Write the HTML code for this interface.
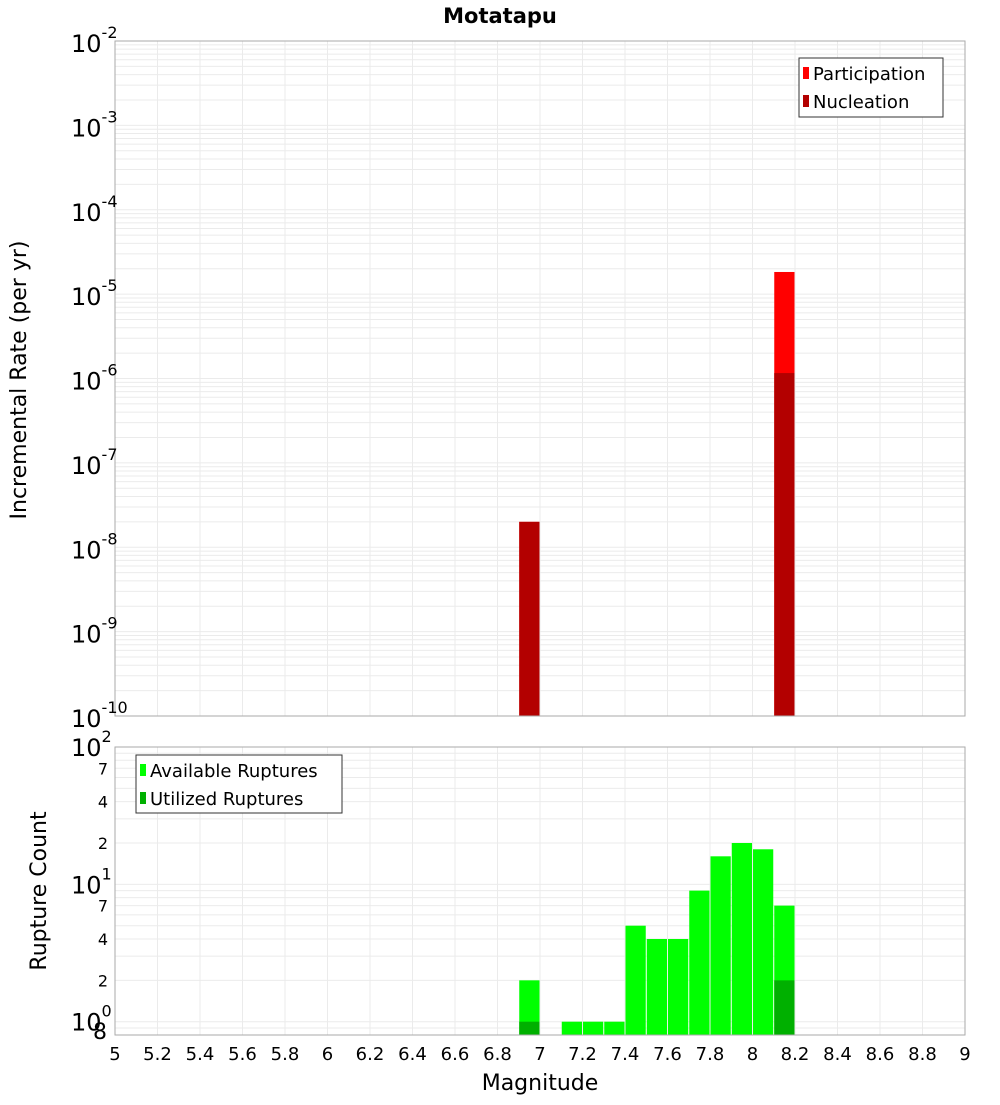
<!DOCTYPE html>
<html><head><meta charset="utf-8">
<style>
body{margin:0;background:#fff;font-family:"Liberation Sans","DejaVu Sans",sans-serif;}
svg text{font-family:"DejaVu Sans","Liberation Sans",sans-serif;}
</style></head>
<body>
<svg id="chart" width="1000" height="1100" xmlns="http://www.w3.org/2000/svg">
<rect width="1000" height="1100" fill="#fff"/>
<text x="500" y="23" text-anchor="middle" font-size="21" font-weight="bold">Motatapu</text>
</svg>
<script>
const rateMags = [6.95, 8.15];
const participationRates = [2.0e-8, 1.83e-5];
const nucleationRates = [2.0e-8, 1.16e-6];
const countMags = [6.95, 7.15, 7.25, 7.35, 7.45, 7.55, 7.65, 7.75, 7.85, 7.95, 8.05, 8.15];
const availableCounts = [2, 1, 1, 1, 5, 4, 4, 9, 16, 20, 18, 7];
const utilizedMags = [6.95, 8.15];
const utilizedCounts = [1, 2];
const xTickLabels = ["5","5.2","5.4","5.6","5.8","6","6.2","6.4","6.6","6.8","7","7.2","7.4","7.6","7.8","8","8.2","8.4","8.6","8.8","9"];
const topExps = [-2,-3,-4,-5,-6,-7,-8,-9,-10];
const bottomTickVals = [100,70,40,20,10,7,4,2,1,0.8];
const bottomTickLabels = ["10^2","7","4","2","10^1","7","4","2","10^0","8"];

const svg = document.getElementById('chart');
const NS = 'http://www.w3.org/2000/svg';
function mk(tag, attrs, parent){const e=document.createElementNS(NS,tag);for(const k in attrs)e.setAttribute(k,attrs[k]);(parent||svg).appendChild(e);return e;}

const X0=115,X1=965;
const xs = m => X0 + (m-5)/4*(X1-X0);
const T0=41,T1=716;
const yTop = v => T0 + (-2 - Math.log10(v))/8*(T1-T0);
const B0=747,B1=1035;
const bLo=Math.log10(0.8), bHi=2;
const yBot = v => B0 + (bHi - Math.log10(v))/(bHi-bLo)*(B1-B0);

function grid(y0,y1,yfn,minV,maxV){
  for(let d=Math.floor(Math.log10(minV));d<=Math.ceil(Math.log10(maxV));d++){
    for(let k=1;k<10;k++){const v=k*Math.pow(10,d);if(v<minV||v>maxV)continue;const y=yfn(v);
      const l=mk('line',{x1:X0,x2:X1,y1:y,y2:y,stroke:'#ebebeb','stroke-width':1});
      
      }
  }
  xTickLabels.forEach(t=>{const x=xs(parseFloat(t));
    const l=mk('line',{x1:x,x2:x,y1:y0,y2:y1,stroke:'#ebebeb','stroke-width':1});
    
    });
}
grid(T0,T1,yTop,1e-10,1e-2);
grid(B0,B1,yBot,0.8,100);

// top bars
const bw = xs(5.1)-xs(5)-1;
rateMags.forEach((m,i)=>{
  const x=xs(m-0.05)+0.5;
  const p=mk('rect',{x:x,y:yTop(participationRates[i]),width:bw,height:T1-yTop(participationRates[i]),fill:'#ff0000'});
  
  
  const n=mk('rect',{x:x,y:yTop(nucleationRates[i]),width:bw,height:T1-yTop(nucleationRates[i]),fill:'#b30000'});
  
  
});
// bottom bars
countMags.forEach((m,i)=>{
  const x=xs(m-0.05)+0.5;
  const r=mk('rect',{x:x,y:yBot(availableCounts[i]),width:bw,height:B1-yBot(availableCounts[i]),fill:'#00ff00'});
  
  
});
utilizedMags.forEach((m,i)=>{
  const x=xs(m-0.05)+0.5;
  const r=mk('rect',{x:x,y:yBot(utilizedCounts[i]),width:bw,height:B1-yBot(utilizedCounts[i]),fill:'#00b000'});
  
  
});

// frames
const f1=mk('rect',{x:X0,y:T0,width:X1-X0,height:T1-T0,fill:'none',stroke:'#aaa','stroke-width':1});


const f2=mk('rect',{x:X0,y:B0,width:X1-X0,height:B1-B0,fill:'none',stroke:'#aaa','stroke-width':1});



// top y tick labels
topExps.forEach(e=>{
  const y=yTop(Math.pow(10,e));
  const t=mk('text',{x:71,y:y+11,'font-size':24});
  
  
  t.textContent='10';
  const s=mk('tspan',{dy:-14,'font-size':16},t);
  s.textContent=String(e);
});
// bottom y ticks
bottomTickVals.forEach((v,i)=>{
  const y=yBot(v);const lab=bottomTickLabels[i];
  const t=mk('text',{});
  
  
  if(lab.startsWith('10^')){
    t.setAttribute('x',71);t.setAttribute('y',y+9);t.setAttribute('font-size',24);
    t.textContent='10';
    const s=mk('tspan',{dy:-14,'font-size':16},t);s.textContent=lab.slice(3);
  } else {
    t.setAttribute('x',108);t.setAttribute('y',y+6);t.setAttribute('font-size',16);t.setAttribute('text-anchor','end');
    if(lab==='8'){t.setAttribute('font-size',22);t.setAttribute('y',y+4);t.setAttribute('x',107);}
    t.textContent=lab;
  }
});
// x tick labels
xTickLabels.forEach(l=>{
  const t=mk('text',{x:xs(parseFloat(l)),y:1060,'font-size':18,'text-anchor':'middle'});
  
  
  t.textContent=l;
});
// axis titles
const xt=mk('text',{x:540,y:1090,'font-size':22,'text-anchor':'middle'});


xt.textContent='Magnitude';
const yt1=mk('text',{x:0,y:0,'font-size':22,'text-anchor':'middle',transform:'translate(26,380) rotate(-90)'});


yt1.textContent='Incremental Rate (per yr)';
const yt2=mk('text',{x:0,y:0,'font-size':22,'text-anchor':'middle',transform:'translate(46,891) rotate(-90)'});


yt2.textContent='Rupture Count';

// legends
function legend(x,y,w,h,items,name){
  const g=mk('g',{});
  
  
  mk('rect',{x:x,y:y,width:w,height:h,fill:'#fff',stroke:'#333','stroke-width':1},g);
  items.forEach((it,i)=>{
    const yy=y+16+i*28;
    const sw=mk('rect',{x:x+4,y:yy-7,width:6,height:12,fill:it[1]},g);
    
    
    const t=mk('text',{x:x+14,y:yy+6,'font-size':18},g);
    
    
    t.textContent=it[0];
  });
}
legend(799,58,144,59,[['Participation','#ff0000'],['Nucleation','#b30000']],'rate-legend');
legend(136,755,206,58,[['Available Ruptures','#00ff00'],['Utilized Ruptures','#00b000']],'count-legend');
</script>
</body></html>
